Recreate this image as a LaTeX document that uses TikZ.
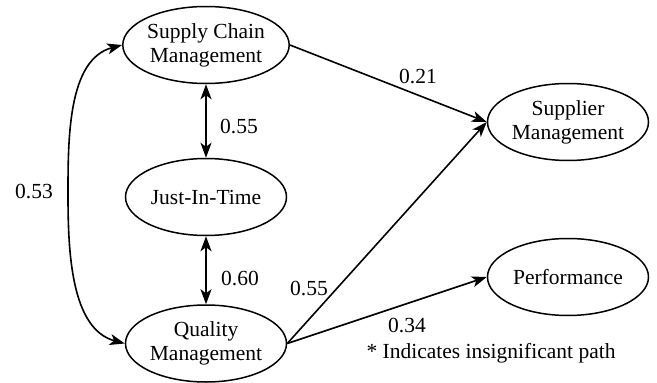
\documentclass[tikz,border=0pt]{standalone}
\usepackage{fontspec}
\setmainfont{Liberation Serif}
\usetikzlibrary{shapes.geometric,arrows.meta}
\begin{document}
\begin{tikzpicture}[x=1pt,y=-1pt,
  lat/.style={ellipse,draw,line width=1.5pt,minimum width=161pt,minimum height=77pt,inner sep=0pt,align=center,font=\fontsize{21.5}{24}\selectfont},
  lbl/.style={font=\fontsize{21.5}{24}\selectfont,inner sep=0pt},
  path/.style={line width=1.6pt,-{Stealth[length=15pt,width=11pt,inset=4pt]}},
  dpath/.style={line width=1.6pt,{Stealth[length=15pt,width=11pt,inset=4pt]}-{Stealth[length=15pt,width=11pt,inset=4pt]}}]
\useasboundingbox (0,0) rectangle (657,383);
\node[lat] (scm) at (206,45) {Supply Chain\\Management};
\node[lat] (jit) at (206,197) {Just-In-Time};
\node[lat] (qm) at (206,343.5) {Quality\\Management};
\node[lat] (sup) at (568,122) {Supplier\\Management};
\node[lat] (perf) at (568,277) {Performance};
\coordinate (mid) at (68,195);
\draw[path] (scm.east) -- (sup.west);
\draw[path] (qm.east) -- (sup.west);
\draw[path] (qm.east) -- (perf.west);
\draw[dpath] (scm.south) -- (jit.north);
\draw[dpath] (jit.south) -- (qm.north);
\draw[line width=1.6pt,{Stealth[length=15pt,width=11pt,inset=4pt]}-{Stealth[length=15pt,width=11pt,inset=4pt]}]
  (scm.west) to[out=195,in=90,looseness=0.9] (mid) to[out=-90,in=165,looseness=0.9] (qm.west);
\node[lbl] (l21) at (418,77) {0.21};
\node[lbl] (l55a) at (239,127) {0.55};
\node[lbl] (l60) at (240,279) {0.60};
\node[lbl] (l53) at (34,192) {0.53};
\node[lbl] (l55b) at (309,289) {0.55};
\node[lbl] (l34) at (407,325) {0.34};
\node[lbl] (note) at (491,353) {* Indicates insignificant path};
\end{tikzpicture}
\end{document}
